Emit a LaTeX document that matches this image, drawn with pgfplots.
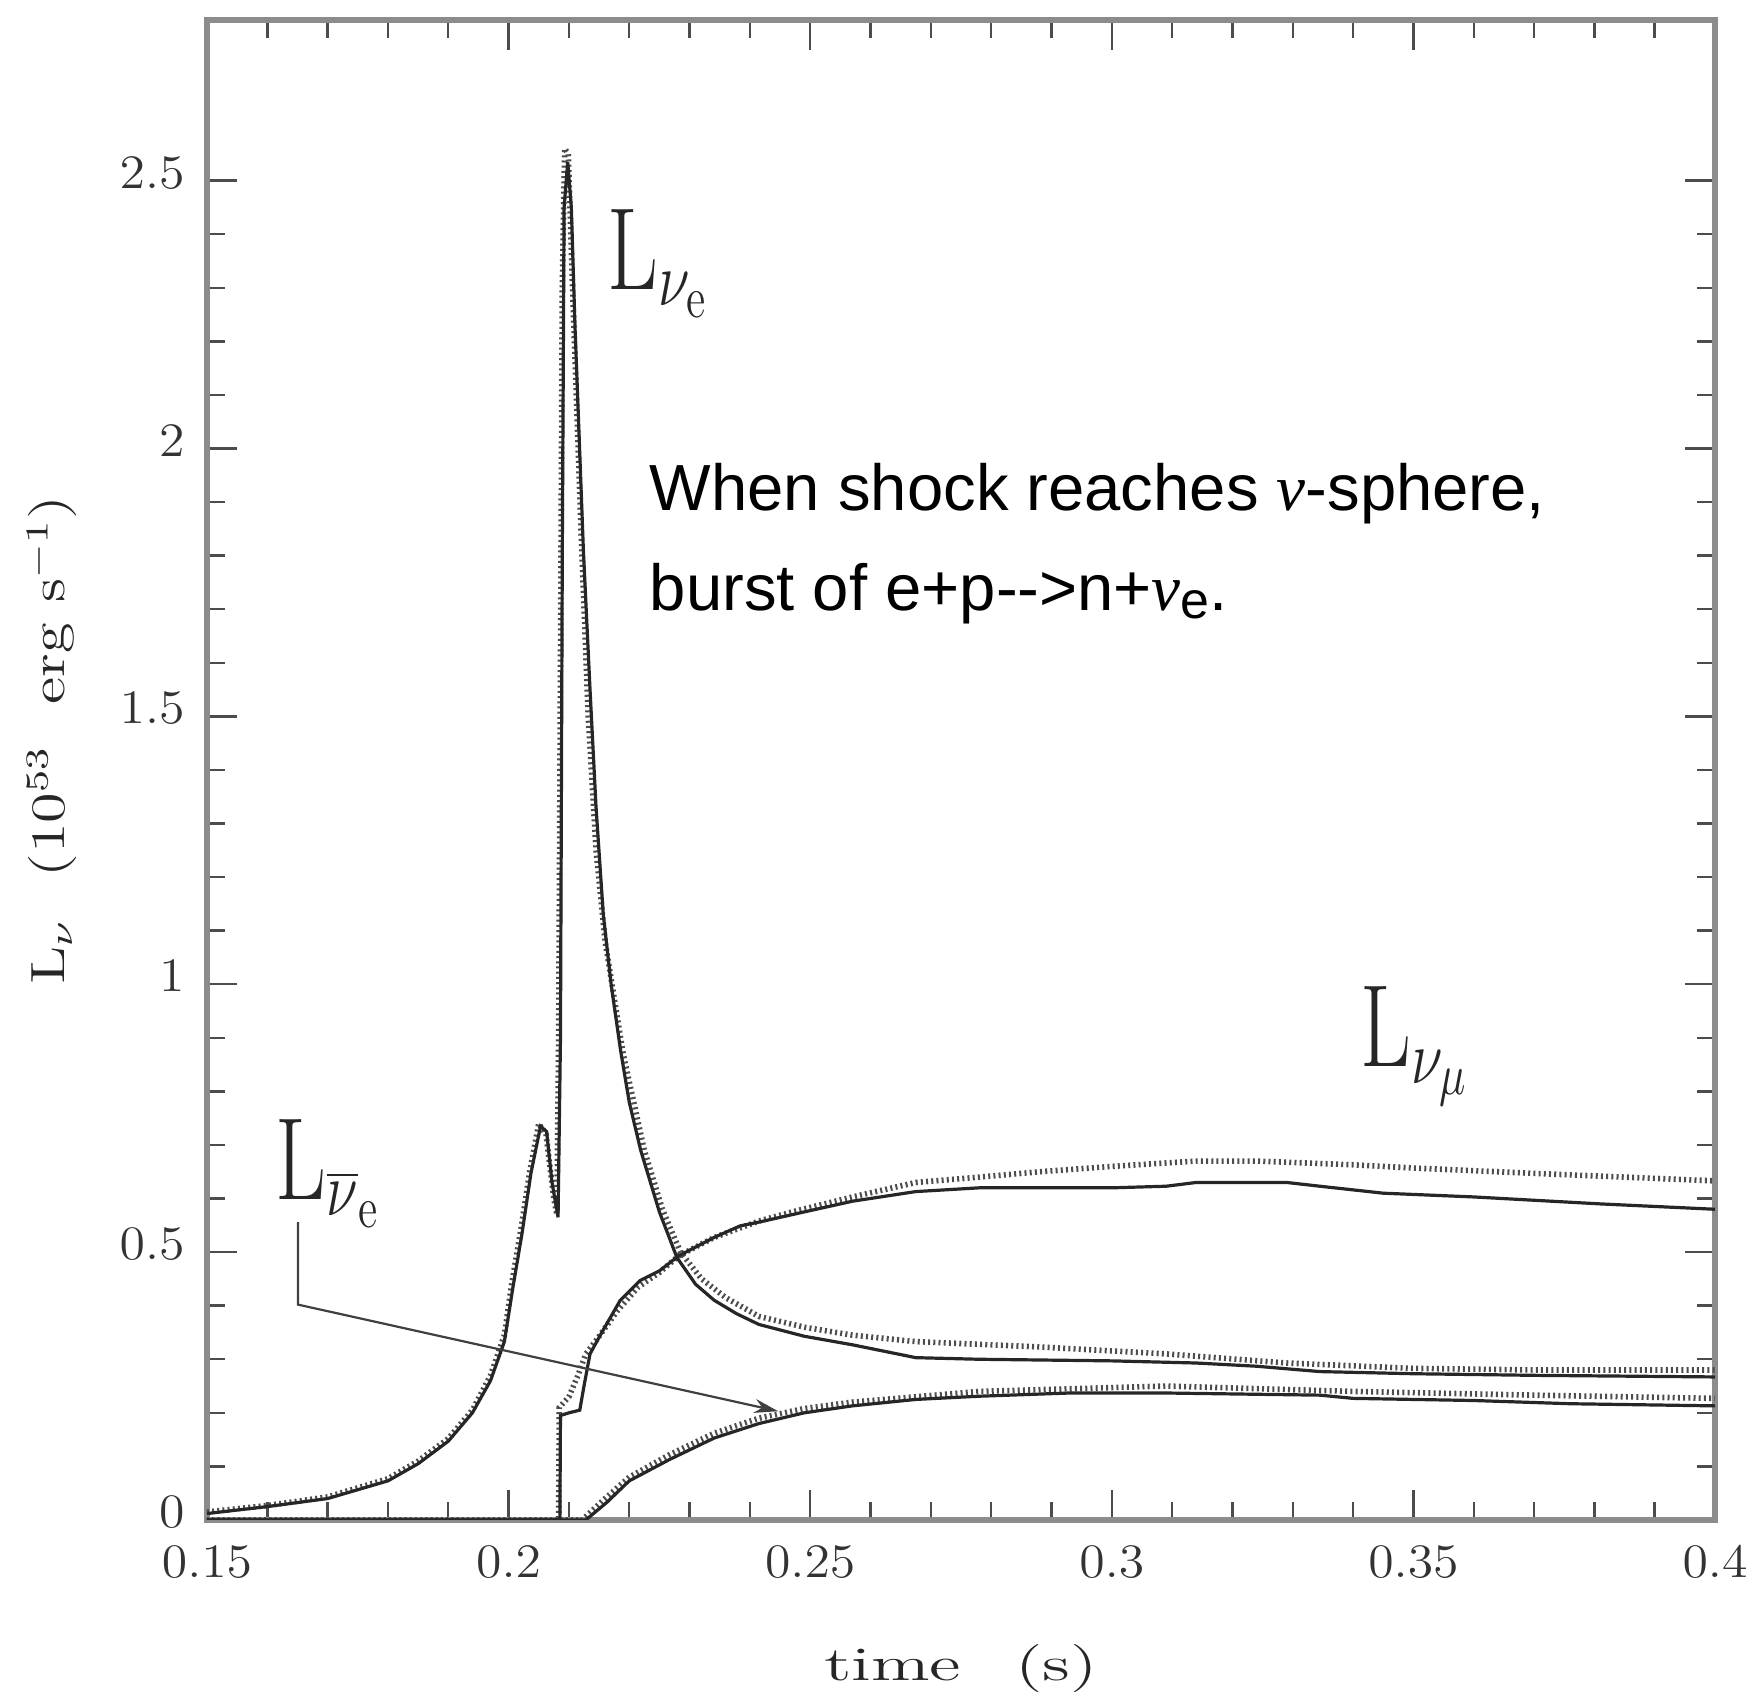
\documentclass[border=0pt]{standalone}
\usepackage{pgfplots}
\pgfplotsset{compat=1.18}
\usepackage{fontspec}
\usetikzlibrary{arrows.meta}
\newfontfamily\arialf{Liberation Sans}
\newfontfamily\timesf{Liberation Serif}

\pgfplotstableread{
x y
0.150 0.012
0.160 0.025
0.170 0.040
0.180 0.073
0.185 0.105
0.190 0.147
0.194 0.200
0.197 0.260
0.1993 0.333
0.2007 0.433
0.2022 0.533
0.2037 0.647
0.2053 0.735
0.2063 0.725
0.2072 0.630
0.2082 0.565
0.2086 0.900
0.2089 1.800
0.2092 2.450
0.2098 2.535
0.2104 2.450
0.2110 2.230
0.2124 1.810
0.2135 1.550
0.2145 1.330
0.2157 1.130
0.2170 1.000
0.2186 0.874
0.2200 0.780
0.2219 0.690
0.2250 0.575
0.2279 0.490
0.2310 0.440
0.2341 0.410
0.2378 0.385
0.2415 0.365
0.2490 0.343
0.2570 0.327
0.2675 0.303
0.2780 0.300
0.3000 0.297
0.3140 0.293
0.3240 0.287
0.3345 0.277
0.3500 0.273
0.3700 0.270
0.4000 0.267
}\nueSolid

\pgfplotstableread{
x y
0.150 0.015
0.160 0.027
0.170 0.043
0.180 0.077
0.185 0.110
0.190 0.152
0.194 0.205
0.197 0.270
0.1993 0.345
0.2005 0.440
0.2020 0.540
0.2035 0.650
0.2050 0.740
0.2062 0.720
0.2075 0.600
0.2080 0.570
0.2083 0.900
0.2086 1.600
0.2089 2.300
0.2093 2.560
0.2099 2.550
0.2106 2.300
0.2120 1.850
0.2132 1.500
0.2145 1.250
0.2160 1.080
0.2190 0.870
0.2225 0.690
0.2255 0.580
0.2285 0.500
0.2320 0.450
0.2360 0.415
0.2415 0.380
0.2490 0.360
0.2570 0.345
0.2675 0.333
0.2880 0.323
0.3090 0.310
0.3290 0.293
0.3500 0.283
0.3700 0.280
0.4000 0.280
}\nueDotted

\pgfplotstableread{
x y
0.150 0
0.2085 0
0.2086 0.195
0.2100 0.200
0.2118 0.205
0.2125 0.250
0.2135 0.310
0.2152 0.345
0.2185 0.410
0.2218 0.447
0.2250 0.465
0.2282 0.493
0.2340 0.527
0.2384 0.549
0.2415 0.556
0.2490 0.575
0.2570 0.595
0.2675 0.613
0.2780 0.620
0.3000 0.620
0.3090 0.623
0.3140 0.630
0.3290 0.630
0.3345 0.623
0.3450 0.610
0.3600 0.603
0.3810 0.590
0.4000 0.580
}\numuSolid

\pgfplotstableread{
x y
0.150 0
0.2083 0
0.2084 0.210
0.2100 0.230
0.2115 0.270
0.2128 0.310
0.2145 0.335
0.2180 0.390
0.2215 0.435
0.2250 0.462
0.2282 0.493
0.2340 0.527
0.2415 0.558
0.2470 0.575
0.2570 0.603
0.2675 0.630
0.2780 0.640
0.2880 0.650
0.3000 0.660
0.3140 0.670
0.3240 0.670
0.3400 0.663
0.3500 0.657
0.3700 0.647
0.4000 0.633
}\numuDotted

\pgfplotstableread{
x y
0.150 0
0.2128 0
0.2163 0.033
0.2200 0.073
0.2267 0.113
0.2341 0.153
0.2415 0.180
0.2490 0.200
0.2570 0.213
0.2675 0.225
0.2780 0.231
0.2930 0.237
0.3090 0.237
0.3345 0.233
0.3400 0.227
0.3600 0.223
0.3760 0.217
0.4000 0.213
}\nuebarSolid

\pgfplotstableread{
x y
0.150 0
0.2122 0
0.2160 0.040
0.2200 0.080
0.2267 0.122
0.2341 0.162
0.2415 0.190
0.2490 0.208
0.2570 0.220
0.2780 0.240
0.3090 0.250
0.3400 0.240
0.3700 0.233
0.4000 0.227
}\nuebarDotted

\begin{document}
\begin{tikzpicture}
\useasboundingbox (-51.75pt,-44.5pt) rectangle (387.75pt,380pt);
\begin{axis}[
  at={(0,0)}, anchor=south west,
  scale only axis, width=377pt, height=375pt,
  xmin=0.15, xmax=0.4, ymin=0, ymax=2.8,
  xtick={0.15,0.2,0.25,0.3,0.35,0.4},
  ytick={0,0.5,1,1.5,2,2.5},
  minor x tick num=4, minor y tick num=4,
  major tick length=7.5pt, minor tick length=4.5pt,
  axis line style={black!45, line width=1.3pt},
  every tick/.style={black!70, line width=0.6pt},
  tick label style={font=\fontsize{11.5}{13}\selectfont, black!80, xscale=1.08, inner sep=1.5pt},
  xticklabel style={yshift=-5pt},
  yticklabel style={xshift=-3.5pt, yshift=2pt},
  xlabel={\fontsize{12}{14}\selectfont\scalebox{1.5}[1]{time\hspace{9pt}(s)}},
  xlabel style={at={(axis description cs:0.5,-0.1073)}, anchor=base, black!85},
  ylabel={\fontsize{12}{14}\selectfont\scalebox{1.3}[1]{$\mathrm{L}_\nu$\hspace{8pt}(10$^{53}$\hspace{8pt}erg s$^{-1}$)}},
  ylabel style={at={(axis description cs:-0.1028,0.52)}, anchor=center, black!85},
]
\addplot[black!70, line width=1.4pt, dash pattern=on 0.5pt off 0.8pt] table {\nueDotted};
\addplot[black!70, line width=1.4pt, dash pattern=on 0.5pt off 0.8pt] table {\numuDotted};
\addplot[black!70, line width=1.4pt, dash pattern=on 0.5pt off 0.8pt] table {\nuebarDotted};
\addplot[black!85, line width=0.8pt] table {\nueSolid};
\addplot[black!85, line width=0.8pt] table {\numuSolid};
\addplot[black!85, line width=0.8pt] table {\nuebarSolid};

\draw[black!75, line width=0.55pt, -{Stealth[length=6pt,width=3.5pt]}]
  (axis cs:0.1651,0.556) -- (axis cs:0.1651,0.402) -- (axis cs:0.2447,0.203);

\node[anchor=base west, inner sep=0pt, black!85] at (axis cs:0.2163,2.297)
  {\fontsize{22}{26}\selectfont\scalebox{1}[1.33]{$\mathrm{L}_{\nu_{\mathrm{e}}}$}};
\node[anchor=base west, inner sep=0pt, black!85] at (axis cs:0.3411,0.846)
  {\fontsize{22}{26}\selectfont\scalebox{1}[1.33]{$\mathrm{L}_{\nu_{\mu}}$}};
\node[anchor=base west, inner sep=0pt, black!85] at (axis cs:0.1613,0.599)
  {\fontsize{22}{26}\selectfont\scalebox{1}[1.33]{$\mathrm{L}_{\overline{\nu}_{\mathrm{e}}}$}};

\node[anchor=base west, inner sep=0pt] at (axis cs:0.2233,1.884)
  {\fontsize{16.3}{19}\selectfont\arialf When shock reaches {\timesf\itshape ν}-sphere,};
\node[anchor=base west, inner sep=0pt] at (axis cs:0.2233,1.698)
  {\fontsize{16.3}{19}\selectfont\arialf burst of e+p-{}-{}>n+{\timesf\itshape ν}\raisebox{-2pt}{\fontsize{13}{13}\selectfont e}.};
\end{axis}
\end{tikzpicture}
\end{document}
